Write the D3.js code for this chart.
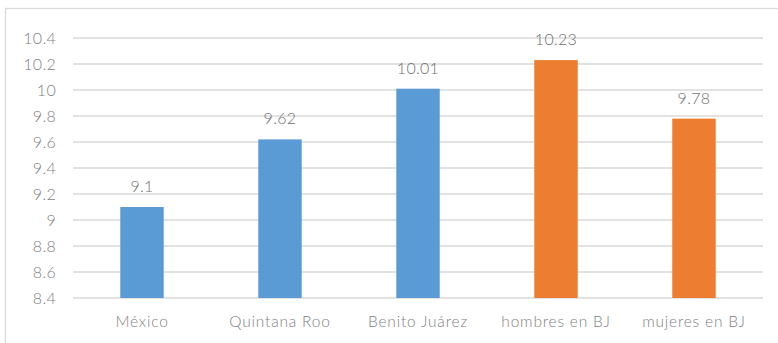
<!DOCTYPE html>
<html>
<head>
<meta charset="utf-8">
<script src="https://cdn.jsdelivr.net/npm/d3@7"></script>
<style>
  html, body { margin: 0; padding: 0; background: #fff; }
  svg { display: block; }
  text { font-family: Lato, "Open Sans", sans-serif; font-weight: 300; }
</style>
</head>
<body>
<svg id="chart" width="778" height="343"></svg>
<script>
// Average years of schooling
const categories = ["México", "Quintana Roo", "Benito Juárez", "hombres en BJ", "mujeres en BJ"];
const values = [9.1, 9.62, 10.01, 10.23, 9.78];
const barColors = ["#5B9BD5", "#5B9BD5", "#5B9BD5", "#ED7D31", "#ED7D31"];
const yTicks = [8.4, 8.6, 8.8, 9, 9.2, 9.4, 9.6, 9.8, 10, 10.2, 10.4];

const svg = d3.select("#chart");
const W = 778, H = 343;
const plot = { left: 73, right: 763, top: 38, bottom: 298 };

// outer frame of the chart area
svg.append("rect")
  .attr("x", 5.5).attr("y", 8.5)
  .attr("width", W).attr("height", H)
  .attr("fill", "none").attr("stroke", "#d9d9d9").attr("stroke-width", 1.3);

const x = d3.scaleBand()
  .domain(categories)
  .range([plot.left, plot.right])
  .paddingInner(0.685)
  .paddingOuter(0.3425);

const y = d3.scaleLinear()
  .domain([8.4, 10.4])
  .range([plot.bottom, plot.top]);

// horizontal gridlines
svg.append("g")
  .selectAll("line")
  .data(yTicks)
  .join("line")
  .attr("x1", plot.left).attr("x2", plot.right)
  .attr("y1", d => y(d)).attr("y2", d => y(d))
  .attr("stroke", "#d9d9d9").attr("stroke-width", 1.3);

// y axis labels
const yAxis = d3.axisLeft(y)
  .tickValues(yTicks)
  .tickSize(0)
  .tickPadding(0)
  .tickFormat(d => d3.format("~g")(d));
const gy = svg.append("g")
  .attr("transform", `translate(${plot.left - 17},0)`)
  .call(yAxis);
gy.select(".domain").remove();
gy.selectAll("text")
  .attr("fill", "#7f7f7f")
  .style("font-size", "16px")
  .style("letter-spacing", "0.3px")
  .attr("dy", "0.35em");

// x axis labels
const xAxis = d3.axisBottom(x).tickSize(0).tickPadding(0);
const gx = svg.append("g")
  .attr("transform", `translate(0,${plot.bottom + 17})`)
  .call(xAxis);
gx.select(".domain").remove();
gx.selectAll("text")
  .attr("fill", "#7f7f7f")
  .style("font-size", "15.5px")
  .style("letter-spacing", "0.8px")
  .attr("dy", "0.75em");

// bars
svg.append("g")
  .selectAll("rect")
  .data(values)
  .join("rect")
  .attr("x", (d, i) => x(categories[i]))
  .attr("width", x.bandwidth())
  .attr("y", d => y(d))
  .attr("height", d => y(8.4) - y(d))
  .attr("fill", (d, i) => barColors[i]);

// value labels
svg.append("g")
  .selectAll("text")
  .data(values)
  .join("text")
  .attr("x", (d, i) => x(categories[i]) + x.bandwidth() / 2)
  .attr("y", d => y(d) - 15)
  .attr("text-anchor", "middle")
  .attr("fill", "#6f6f6f")
  .style("font-size", "16px")
  .style("letter-spacing", "0.3px")
  .text(d => d3.format("~g")(d));
</script>
</body>
</html>
